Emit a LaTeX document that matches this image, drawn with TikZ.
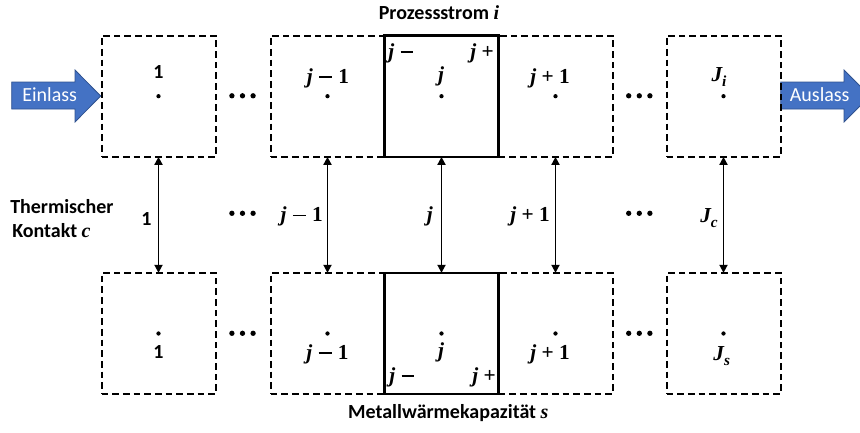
\documentclass[tikz,border=0pt]{standalone}
\usepackage[no-math]{fontspec}
\setmainfont{Carlito}
\newfontfamily\labelserif{Liberation Serif}
\usetikzlibrary{arrows.meta}
\definecolor{flowblue}{HTML}{4472C4}
\definecolor{flowedge}{HTML}{2F528F}
% bold italic variables, bold numbers and operators for the cell indices
\newcommand{\varb}[1]{{\labelserif\bfseries\itshape #1}}
\newcommand{\numb}[1]{{\labelserif\bfseries #1}}
\newcommand{\opminus}{\hspace{0.3em}\rule[0.24em]{0.6em}{0.085em}\hspace{0.3em}}
\newcommand{\opplus}{\hspace{0.25em}\numb{+}\hspace{0.25em}}
\newcommand{\idxsub}[1]{\raisebox{-0.25em}{\fontsize{11.5}{12}\selectfont\varb{#1}}}
\begin{document}
\begin{tikzpicture}[x=0.75pt,y=-0.75pt,
  cell/.style={minimum width=85.5pt,minimum height=91pt,inner sep=0pt,outer sep=0pt},
  opencell/.style={cell,draw,line width=1.5pt,dash pattern=on 5pt off 3pt},
  closedcell/.style={cell,draw,line width=1.6pt},
  txt/.style={font=\fontsize{15}{18}\selectfont\bfseries,inner sep=0pt},
  idx/.style={font=\fontsize{16}{18}\selectfont,inner sep=0pt,anchor=base},
  centre/.style={circle,fill,inner sep=0pt,minimum size=3.2pt},
  gap/.style={circle,fill,inner sep=0pt,minimum size=4pt},
  link/.style={{Triangle[length=6pt,width=6pt]}-{Triangle[length=6pt,width=6pt]},line width=1.3pt},
  flow/.style={fill=flowblue,draw=flowedge,line width=0.6pt},
  flowtext/.style={font=\fontsize{15}{18}\selectfont,text=white,inner sep=0pt,anchor=base}
]
\useasboundingbox (0,0) rectangle (860,432);
\clip (0,0) rectangle (860,432);

% inlet and outlet block arrows
\path[flow] (11.7,82) -- (75,82) -- (75,70) -- (100.7,96) -- (75,122) -- (75,109) -- (11.7,109) -- cycle;
\node[flowtext] (inlet) at (49.7,101.7) {Einlass};
\path[flow] (780.7,82) -- (844,82) -- (844,70) -- (870,96) -- (844,122) -- (844,109) -- (780.7,109) -- cycle;
\node[flowtext] (outlet) at (819.7,101.7) {Auslass};

% process stream (t) and metal (b) cells
\foreach \n/\x in {1/158.5, jm/327.5, jp/555.5, J/723.5} {
  \node[opencell] (t\n) at (\x,96.2) {};
  \node[opencell] (b\n) at (\x,333.5) {};
}
\node[closedcell] (tj) at (441.5,96.2) {};
\node[closedcell] (bj) at (441.5,333.5) {};

% cell centre points and thermal contacts
\foreach \n in {1,jm,j,jp,J} {
  \node[centre] (ct\n) at (t\n.center) {};
  \node[centre] (cb\n) at (b\n.center) {};
  \draw[link] (t\n.south) -- (b\n.north);
}

% omitted cells
\foreach \r/\y in {t/95.8, m/213.3, b/333.3}
  \foreach \s/\x in {l/242.5, r/639.3}
    \foreach \k in {-1,0,1}
      \node[gap] (g\r\s\k) at (\x+10.6*\k,\y) {};

% labels of the process stream cells
\node[txt,anchor=base] (lt1) at (158.5,78) {1};
\node[idx] (ltjm) at (328,83) {\varb{j}\opminus\numb{1}};
\node[idx] (ltj) at (441,81) {\varb{j}};
\node[idx] (ltjp) at (550,83) {\varb{j}\opplus\numb{1}};
\node[idx] (ltJ) at (719,81.5) {\varb{J}\idxsub{i}};

% labels of the metal cells
\node[txt,anchor=base] (lb1) at (158.5,358) {1};
\node[idx] (lbjm) at (327.5,359) {\varb{j}\opminus\numb{1}};
\node[idx] (lbj) at (441,357) {\varb{j}};
\node[idx] (lbjp) at (550,359) {\varb{j}\opplus\numb{1}};
\node[idx] (lbJ) at (721.7,360) {\varb{J}\idxsub{s}};

% labels of the thermal contacts
\node[txt,anchor=base east] (m1) at (151.7,225) {1};
\node[idx,anchor=base east] (mjm) at (323,221.5) {\varb{j}\opminus\numb{1}};
\node[idx,anchor=base east] (mj) at (433,221.5) {\varb{j}};
\node[idx,anchor=base east] (mjp) at (550,221.5) {\varb{j}\opplus\numb{1}};
\node[idx,anchor=base east] (mJ) at (718,222) {\varb{J}\idxsub{c}};

% cell faces of cell j
\node[idx,anchor=base west] (ftl) at (388,58) {\varb{j}\opminus};
\node[idx,anchor=base east] (ftr) at (494,58) {\varb{j}\opplus};
\node[idx,anchor=base west] (fbl) at (389,382) {\varb{j}\opminus};
\node[idx,anchor=base east] (fbr) at (496,382) {\varb{j}\opplus};

% row titles
\node[txt,anchor=base] (proc) at (439,19.3) {Prozessstrom \varb{i}};
\node[txt,anchor=base] (metal) at (448.3,418) {Metallwärmekapazität \varb{s}};
\node[txt,anchor=base west] (contact1) at (10,213.3) {Thermischer};
\node[txt,anchor=base west] (contact2) at (12,237) {Kontakt \varb{c}};
\end{tikzpicture}
\end{document}
